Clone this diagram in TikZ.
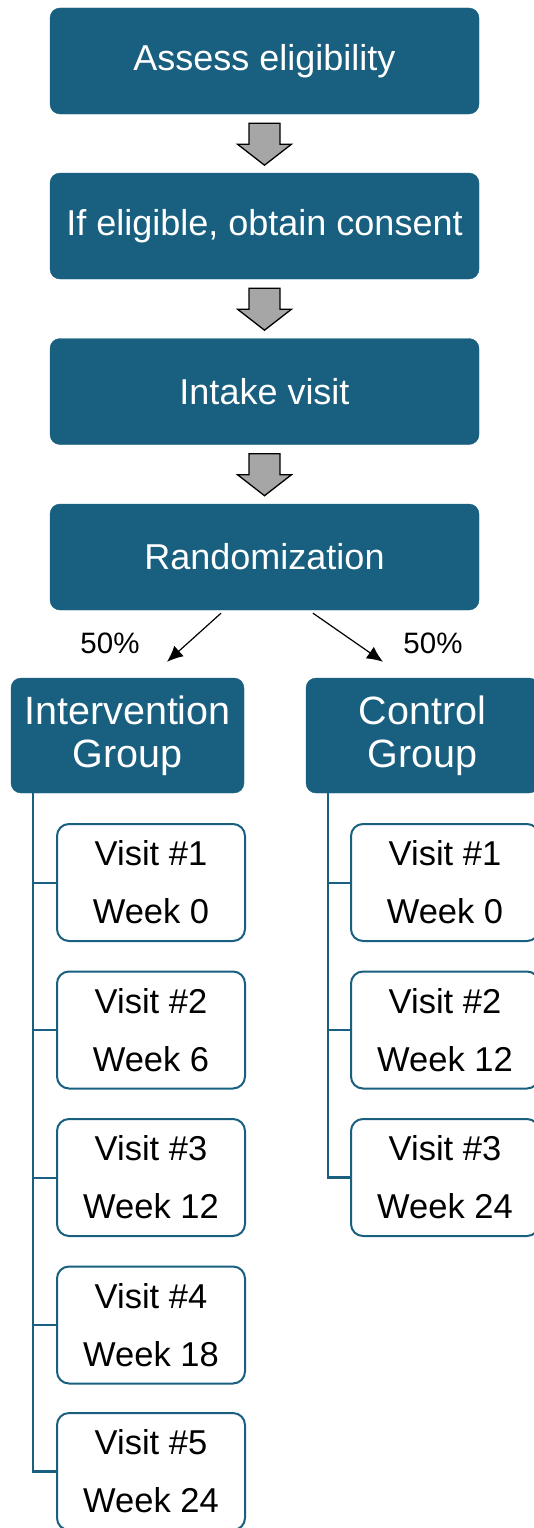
\documentclass[tikz,border=0pt]{standalone}
\usepackage{fontspec}
\setmainfont{Liberation Sans}
\usetikzlibrary{arrows.meta}

\definecolor{stepblue}{RGB}{24,95,128}
\definecolor{arrowgray}{RGB}{166,166,166}

\tikzset{
  stagebox/.style={fill=stepblue, draw=stepblue, rounded corners=10pt, text=white,
    minimum width=429pt, minimum height=106pt, font=\fontsize{36}{43}\selectfont},
  groupbox/.style={stagebox, minimum width=233pt, minimum height=115pt, align=center,
    font=\fontsize{39.5}{43}\selectfont},
  visitbox/.style={draw=stepblue, line width=2pt, fill=white, rounded corners=12pt,
    minimum width=188pt, minimum height=117pt, align=center,
    font=\fontsize{34.5}{58}\selectfont},
  trunk/.style={draw=stepblue, line width=2.5pt},
  branch/.style={draw=stepblue, line width=2pt},
  split/.style={-{Latex[length=16pt,width=14pt]}, line width=1.2pt},
  downarrow/.pic={
    \draw[fill=arrowgray, line width=1.3pt] (-15.5,0) -- (15.5,0) -- (15.5,21) -- (27,21)
      -- (0,42) -- (-27,21) -- (-15.5,21) -- cycle;
  }
}

\begin{document}
\begin{tikzpicture}[x=1pt, y=-1pt]
  \useasboundingbox (0,0) rectangle (533,1528);

  % main steps
  \path (264.5,61) node[stagebox] (assess) {Assess eligibility};
  \path (264.5,226) node[stagebox] (consent) {If eligible, obtain consent};
  \path (264.5,391.5) node[stagebox] (intake) {Intake visit};
  \path (264.5,557) node[stagebox] (random) {Randomization};

  \path (assess.south) ++(0,9) pic {downarrow};
  \path (consent.south) ++(0,9) pic {downarrow};
  \path (intake.south) ++(0,9) pic {downarrow};

  % the two arms
  \path (127.5,735.5) node[groupbox] (igroup) {Intervention\\Group};
  \path (422.5,735.5) node[groupbox] (cgroup) {Control\\Group};

  \draw[split] ([xshift=-43.5pt,yshift=-3pt]random.south) -- ([xshift=39.5pt,yshift=16pt]igroup.north);
  \draw[split] ([xshift=48.5pt,yshift=-3pt]random.south) -- ([xshift=-39.5pt,yshift=16pt]cgroup.north);
  \path (110,643) node[font=\fontsize{29.5}{34}\selectfont] (pleft) {50\%};
  \path (433,643) node[font=\fontsize{29.5}{34}\selectfont] (pright) {50\%};

  % intervention visits
  \path (151,882.5) node[visitbox] (iv1) {Visit \#1\\Week 0};
  \path (151,1030) node[visitbox] (iv2) {Visit \#2\\Week 6};
  \path (151,1177.5) node[visitbox] (iv3) {Visit \#3\\Week 12};
  \path (151,1325) node[visitbox] (iv4) {Visit \#4\\Week 18};
  \path (151,1471.5) node[visitbox] (iv5) {Visit \#5\\Week 24};

  \coordinate (itrunk) at ([xshift=22pt]igroup.south west);
  \draw[trunk] (itrunk) |- (iv5.west);
  \draw[branch] (iv1.west) -- (iv1.west -| itrunk);
  \draw[branch] (iv2.west) -- (iv2.west -| itrunk);
  \draw[branch] (iv3.west) -- (iv3.west -| itrunk);
  \draw[branch] (iv4.west) -- (iv4.west -| itrunk);

  % control visits
  \path (445,882.5) node[visitbox] (cv1) {Visit \#1\\Week 0};
  \path (445,1030) node[visitbox] (cv2) {Visit \#2\\Week 12};
  \path (445,1177.5) node[visitbox] (cv3) {Visit \#3\\Week 24};

  \coordinate (ctrunk) at ([xshift=22pt]cgroup.south west);
  \draw[trunk] (ctrunk) |- (cv3.west);
  \draw[branch] (cv1.west) -- (cv1.west -| ctrunk);
  \draw[branch] (cv2.west) -- (cv2.west -| ctrunk);
\end{tikzpicture}
\end{document}
